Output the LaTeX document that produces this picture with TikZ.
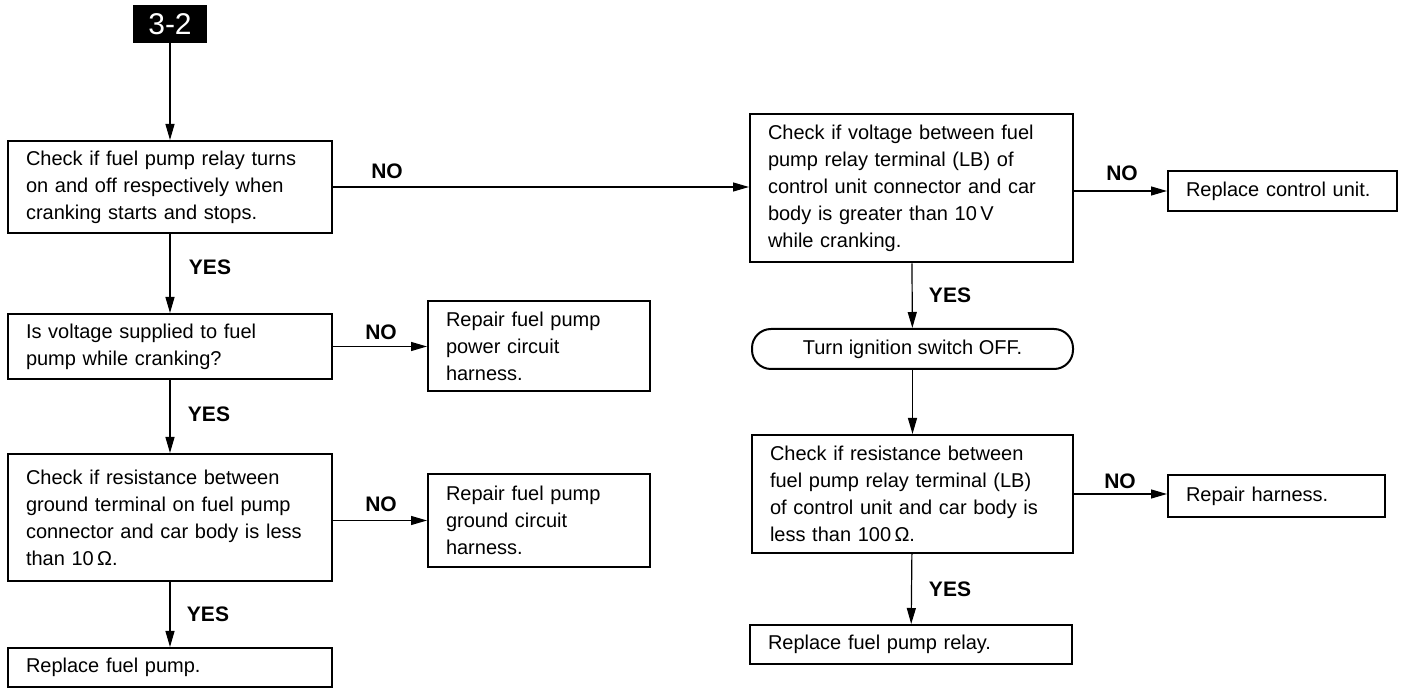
\documentclass[tikz,border=0pt]{standalone}
\usepackage{fontspec}
\setmainfont{Liberation Sans}
\usetikzlibrary{arrows.meta,positioning}

\begin{document}
\begin{tikzpicture}[x=0.5pt, y=-0.5pt, >={Triangle[length=8pt,width=4.5pt]},
	   font=\fontsize{10pt}{13.5pt}\selectfont,
	   box/.style={draw, line width=1pt, inner xsep=9pt, inner ysep=0pt, align=left},
	   lbl/.style={font=\fontsize{10.5pt}{12pt}\selectfont\bfseries, inner sep=0pt},
	   con/.style={->, line width=0.6pt}]
	  \useasboundingbox (0,0) rectangle (1405,689);
	  % left column
	  \node[fill=black, text=white, minimum width=37pt, minimum height=19pt, inner sep=0pt,
	        font=\fontsize{15pt}{18pt}\selectfont] (tag) at (170,24) {3-2};
	  \node[box, text width=144pt, minimum height=46pt] (A) at (170,187)
	    {Check if fuel pump relay turns\\ on and off respectively when\\ cranking starts and stops.};
	  \node[box, text width=144pt, minimum height=32.5pt] (B) at (170,346.5)
	    {Is voltage supplied to fuel\\ pump while cranking?};
	  \node[box, text width=144pt, minimum height=63.5pt] (C) at (170,517.5)
	    {Check if resistance between\\ ground terminal on fuel pump\\ connector and car body is less\\ than 10\,Ω.};
	  \node[box, text width=144pt, minimum height=19.5pt] (D) at (170,667.5) {Replace fuel pump.};
	  \node[box, text width=93pt, minimum height=45pt] (P) at (539,346)
	    {Repair fuel pump\\ power circuit\\ harness.};
	  \node[box, text width=93pt, minimum height=46.5pt] (Q) at (539,520.5)
	    {Repair fuel pump\\ ground circuit\\ harness.};
	  % right column
	  \node[box, text width=143.5pt, minimum height=74pt] (E) at (911.5,188.5)
	    {Check if voltage between fuel\\ pump relay terminal (LB) of\\ control unit connector and car\\ body is greater than 10\,V\\ while cranking.};
	  \node[draw, line width=1pt, rounded corners=9.5pt, minimum width=160.5pt, minimum height=20pt,
	        inner sep=0pt] (F) at (912.5,349) {Turn ignition switch OFF.};
	  \node[box, text width=142.5pt, minimum height=59pt] (G) at (912.5,494)
	    {Check if resistance between\\ fuel pump relay terminal (LB)\\ of control unit and car body is\\ less than 100\,Ω.};
	  \node[box, text width=143pt, minimum height=19.5pt] (H) at (911,644.5) {Replace fuel pump relay.};
	  \node[box, text width=96.5pt, minimum height=20pt] (R) at (1282.5,191) {Replace control unit.};
	  \node[box, text width=90.5pt, minimum height=21pt] (S) at (1276.5,496) {Repair harness.};
	  % connectors
	  \draw[con] (tag) -- (A);
	  \draw[con] (A) -- (B);
	  \draw[con] (B) -- (C);
	  \draw[con] (C) -- (D);
	  \draw[con] (B.east) -- (B.east -| P.west);
	  \draw[con] (C.east |- Q) -- (Q.west);
	  \draw[con] (A.east) -- (A.east -| E.west);
	  \draw[con] (E.east |- R) -- (R.west);
	  \draw[con] (E) -- (F);
	  \draw[con] (F) -- (G);
	  \draw[con] (G.east) -- (G.east -| S.west);
	  \draw[con] (G) -- (H);
	  % labels
	  \node[lbl] (y1) at (210,267) {YES};
	  \node[lbl] (y2) at (209,414) {YES};
	  \node[lbl] (y3) at (208,614) {YES};
	  \node[lbl] (y4) at (950,295) {YES};
	  \node[lbl] (y5) at (950,589) {YES};
	  \node[lbl] (n1) at (387,171) {NO};
	  \node[lbl] (n2) at (381,332) {NO};
	  \node[lbl] (n3) at (381,504) {NO};
	  \node[lbl] (n4) at (1122,173) {NO};
	  \node[lbl] (n5) at (1120,481) {NO};
	\end{tikzpicture}
\end{document}
